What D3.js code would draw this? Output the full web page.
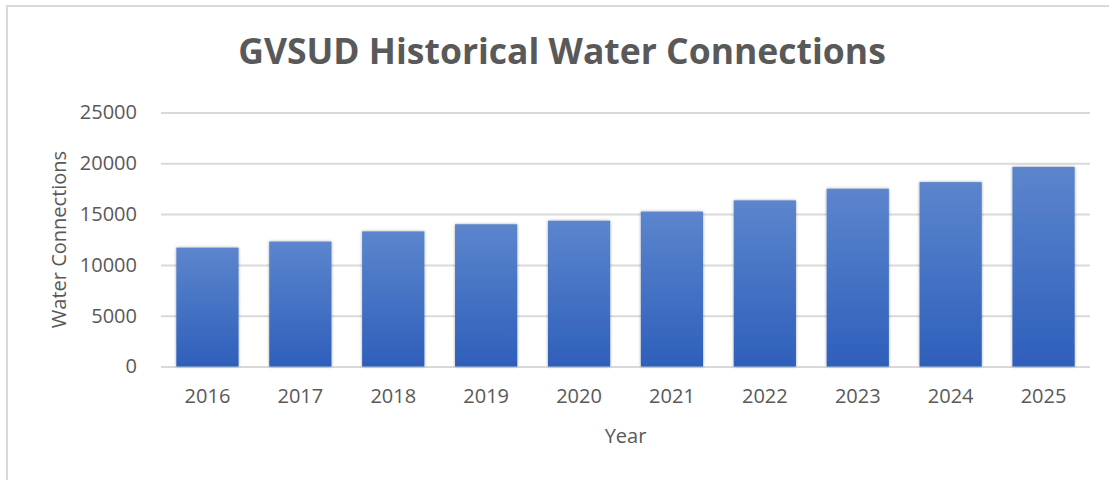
<!DOCTYPE html>
<html>
<head>
<meta charset="utf-8">
<script src="https://cdn.jsdelivr.net/npm/d3@7"></script>
<style>
  body { margin: 0; background: #fff; }
  svg { display: block; }
  text { font-family: "Open Sans", sans-serif; fill: #595959; }
</style>
</head>
<body>
<div id="chart"></div>
<script>
// data
var years = ["2016", "2017", "2018", "2019", "2020", "2021", "2022", "2023", "2024", "2025"];
var connections = [11700, 12300, 13300, 14000, 14350, 15250, 16350, 17500, 18150, 19650];
var yTicks = [0, 5000, 10000, 15000, 20000, 25000];

var svgWidth = 1109;
var svgHeight = 480;

var margin = { top: 112.5, right: 19, bottom: 113.5, left: 161 };
var width = svgWidth - margin.left - margin.right;
var height = svgHeight - margin.top - margin.bottom;

var svg = d3.select("#chart").append("svg")
  .attr("width", svgWidth)
  .attr("height", svgHeight);

// gradient + soft shadow for the bars
var defs = svg.append("defs");
var grad = defs.append("linearGradient")
  .attr("id", "barGrad")
  .attr("x1", 0).attr("y1", 0).attr("x2", 0).attr("y2", 1);
grad.append("stop").attr("offset", "0%").attr("stop-color", "#5c85cd");
grad.append("stop").attr("offset", "100%").attr("stop-color", "#2e5fbb");

var shadow = defs.append("filter")
  .attr("id", "shadow")
  .attr("x", "-20%").attr("y", "-20%").attr("width", "140%").attr("height", "140%");
shadow.append("feDropShadow")
  .attr("dx", 0).attr("dy", 0)
  .attr("stdDeviation", 1.6)
  .attr("flood-color", "#000")
  .attr("flood-opacity", 0.35);

// chart frame (right/bottom edges are cut off in the original)
svg.append("rect")
  .attr("x", 7).attr("y", 6)
  .attr("width", 1300).attr("height", 700)
  .attr("fill", "none")
  .attr("stroke", "#d9d9d9")
  .attr("stroke-width", 2);

var chartGroup = svg.append("g")
  .attr("transform", `translate(${margin.left}, ${margin.top})`);

var x = d3.scaleBand()
  .domain(years)
  .range([0, width])
  .paddingInner(0.33)
  .paddingOuter(0.165);

var y = d3.scaleLinear()
  .domain([0, 25000])
  .range([height, 0]);

// gridlines + y labels
var yAxis = chartGroup.append("g")
  .call(d3.axisLeft(y).tickValues(yTicks).tickSize(-width).tickPadding(24).tickFormat(d3.format("d")));
yAxis.select(".domain").remove();
yAxis.selectAll(".tick line")
  .attr("stroke", "#d9d9d9")
  .attr("stroke-width", 2);
yAxis.selectAll(".tick text")
  .attr("font-size", "20px")
  .attr("fill", "#595959")
  .attr("font-family", "Open Sans, sans-serif");

// bars
chartGroup.append("g")
  .selectAll("rect")
  .data(connections)
  .enter()
  .append("rect")
    .attr("x", function (d, i) { return x(years[i]); })
    .attr("y", function (d) { return y(d); })
    .attr("width", x.bandwidth())
    .attr("height", function (d) { return height - y(d); })
    .attr("fill", "url(#barGrad)")
    .attr("filter", "url(#shadow)");

// x labels
var xAxis = chartGroup.append("g")
  .attr("transform", "translate(0," + height + ")")
  .call(d3.axisBottom(x).tickSize(0).tickPadding(22));
xAxis.select(".domain").remove();
xAxis.selectAll(".tick text")
  .attr("font-size", "20px")
  .attr("fill", "#595959")
  .attr("font-family", "Open Sans, sans-serif");

// title
svg.append("text")
  .attr("x", 562)
  .attr("y", 64)
  .attr("text-anchor", "middle")
  .attr("font-size", "35.5px")
  .attr("font-weight", "bold")
  .text("GVSUD Historical Water Connections");

// axis titles
chartGroup.append("text")
  .attr("x", width / 2)
  .attr("y", height + 76)
  .attr("text-anchor", "middle")
  .attr("font-size", "20px")
  .text("Year");

chartGroup.append("text")
  .attr("transform", "rotate(-90)")
  .attr("x", -(height / 2))
  .attr("y", -95)
  .attr("text-anchor", "middle")
  .attr("font-size", "20px")
  .text("Water Connections");
</script>
</body>
</html>
